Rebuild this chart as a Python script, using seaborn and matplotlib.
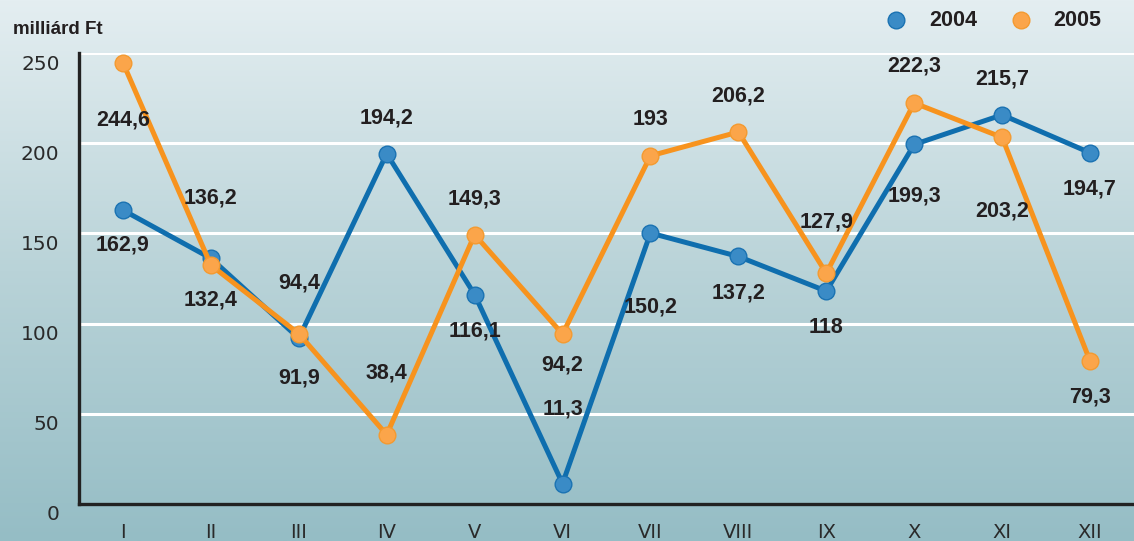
import numpy as np
import pandas as pd
import matplotlib
matplotlib.use("Agg")
import matplotlib.pyplot as plt
from matplotlib.lines import Line2D
from matplotlib.transforms import ScaledTranslation
from matplotlib.colors import LinearSegmentedColormap
import seaborn as sns

# ---- data ----
months = ["I", "II", "III", "IV", "V", "VI", "VII", "VIII", "IX", "X", "XI", "XII"]
values_2004 = [162.9, 136.2, 91.9, 194.2, 116.1, 11.3, 150.2, 137.2, 118, 199.3, 215.7, 194.7]
values_2005 = [244.6, 132.4, 94.4, 38.4, 149.3, 94.2, 193, 206.2, 127.9, 222.3, 203.2, 79.3]
series_names = ["2004", "2005"]
y_ticks = [0, 50, 100, 150, 200, 250]
y_label = "milliárd Ft"

# label offsets (pixels, vertical) -- styling only
off_2004 = [-35, 60, -40, 36, -36, 75, -74, -37, -36, -52, 36, -36]
off_2005 = [-57, -35, 51, 62, 36, -31, 36, 36, 51, 37, -74, -36]

sns.set_style("white")
plt.rcParams["font.family"] = ["DejaVu Sans"]

W, H, DPI = 1134, 541, 100
fig = plt.figure(figsize=(W / DPI, H / DPI), dpi=DPI)

# background gradient
bg = fig.add_axes([0, 0, 1, 1], zorder=0)
cmap = LinearSegmentedColormap.from_list("bg", ["#e4eef1", "#b9d3d8", "#95bdc5"])
grad = np.linspace(0, 1, 256).reshape(-1, 1)
bg.imshow(grad, aspect="auto", cmap=cmap, extent=[0, 1, 1, 0])
bg.axis("off")

ax = fig.add_axes([79 / W, 37 / H, (W - 79) / W, (504 - 53) / H], zorder=1)
ax.set_facecolor("none")

df = pd.DataFrame({
    "idx": list(range(len(months))) * 2,
    "value": values_2004 + values_2005,
    "year": [series_names[0]] * len(months) + [series_names[1]] * len(months),
})

line_cols = {"2004": "#0f6eae", "2005": "#f7931e"}
face_cols = {"2004": "#3a8bc6", "2005": "#fba54a"}
edge_cols = {"2004": "#1a72b2", "2005": "#f49a30"}

for name in series_names:
    sub = df[df["year"] == name]
    sns.lineplot(data=sub, x="idx", y="value", ax=ax, color=line_cols[name],
                 linewidth=3.6, marker="o", markersize=12,
                 markerfacecolor=face_cols[name], markeredgecolor=edge_cols[name],
                 markeredgewidth=1.0, clip_on=False, legend=False, zorder=3)

label_font = ["Liberation Sans", "DejaVu Sans"]
def fmt(v):
    return f"{v:g}".replace(".", ",")

for vals, offs in ((values_2004, off_2004), (values_2005, off_2005)):
    for i, (v, o) in enumerate(zip(vals, offs)):
        ax.annotate(fmt(v), (i, v), xytext=(0, o), textcoords="offset pixels",
                    ha="center", va="center", fontsize=15.5, fontweight="bold",
                    family=label_font, color="#231f20", zorder=5)

ax.set_xlim(-0.5, len(months) - 0.5)
ax.set_ylim(0, 250)
ax.set_xlabel("")
ax.set_ylabel("")

# x axis
ax.set_xticks(range(len(months)))
ax.set_xticklabels(months)
ax.set_xticks([i + 0.5 for i in range(len(months) - 1)], minor=True)
ax.tick_params(axis="x", which="major", length=0, pad=14, labelsize=14, labelcolor="#2a2a2a")
ax.tick_params(axis="x", which="minor", direction="in", length=8, width=2.2, color="#222222")

# y axis
ax.set_yticks(y_ticks)
ax.set_yticklabels([str(t) for t in y_ticks])
ax.tick_params(axis="y", which="major", direction="in", length=8, width=2.2,
               color="#222222", pad=14, labelsize=14.5, labelcolor="#2a2a2a")
for lab in ax.get_yticklabels():
    lab.set_transform(lab.get_transform() + ScaledTranslation(0, -9 / DPI, fig.dpi_scale_trans))
ax.yaxis.get_major_ticks()[0].tick1line.set_visible(False)

ax.yaxis.grid(True, color="white", linewidth=2.2)
ax.xaxis.grid(False)
ax.set_axisbelow(True)

for s in ("top", "right"):
    ax.spines[s].set_visible(False)
for s in ("left", "bottom"):
    ax.spines[s].set_color("#222222")
    ax.spines[s].set_linewidth(2.4)

# y label
fig.text(13 / W, 1 - 29 / H, y_label, ha="left", va="center", fontsize=13.5,
         fontweight="bold", family=label_font, color="#231f20")

# legend
for name, mx, tx in (("2004", 896, 953), ("2005", 1021, 1077)):
    fig.add_artist(Line2D([mx / W], [1 - 20 / H], transform=fig.transFigure,
                          marker="o", markersize=12, linestyle="none",
                          markerfacecolor=face_cols[name], markeredgecolor=edge_cols[name],
                          markeredgewidth=1.0))
    fig.text(tx / W, 1 - 20 / H, name, ha="center", va="center", fontsize=15.5,
             fontweight="bold", family=label_font, color="#231f20")

fig.savefig("out.png", dpi=DPI)
